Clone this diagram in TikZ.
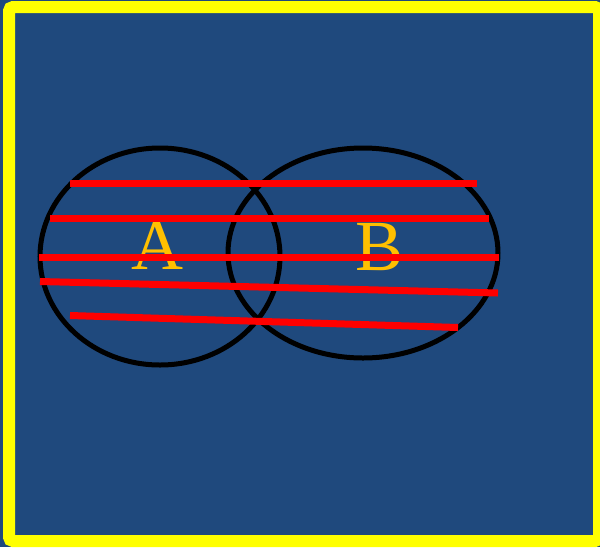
\documentclass[tikz,border=0pt]{standalone}
\usepackage{fontspec}
\setmainfont{Liberation Serif}
\usetikzlibrary{shapes.geometric}
\definecolor{bgblue}{RGB}{31,73,125}
\definecolor{gold}{RGB}{255,192,0}
\definecolor{brightyellow}{RGB}{255,255,0}
\tikzset{
  setshape/.style={ellipse, draw=black, line width=5pt, inner sep=0pt},
  setlabel/.style={text=gold, font=\fontsize{72}{72}\selectfont, inner sep=0pt},
  redline/.style={draw=red, line width=7pt}
}
\begin{document}
\begin{tikzpicture}[x=1pt,y=-1pt]
\useasboundingbox (0,0) rectangle (600,547);
\fill[bgblue] (0,0) rectangle (600,547);
\draw[brightyellow, line width=12pt, rounded corners=4pt] (9,7) rectangle (599,541);
\node[setshape, minimum width=240pt, minimum height=217pt] (A) at (160,256.5) {};
\node[setshape, minimum width=270pt, minimum height=210pt] (B) at (363,253) {};
\node[setlabel] (la) at (157,246) {A};
\node[setlabel] (lb) at (380,247) {B};
\draw[redline] (70,183) -- (477,183);
\draw[redline] (50,218) -- (489,218);
\draw[redline] (39,257) -- (499,257);
\draw[redline] (40,281.5) -- (498,293);
\draw[redline] (70,315.5) -- (458,327.5);
\end{tikzpicture}
\end{document}
